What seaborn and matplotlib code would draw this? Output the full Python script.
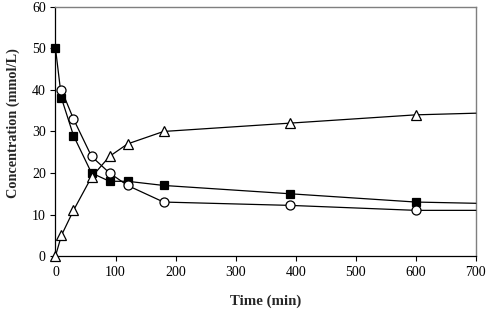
import numpy as np
import pandas as pd
import matplotlib
matplotlib.use("Agg")
import matplotlib.pyplot as plt
import seaborn as sns

# measured points (min, mmol/L); last entry of each is where the curve ends at 700 min
time_sq = [0, 10, 30, 60, 90, 120, 180, 390, 600, 700]
conc_sq = [50, 38, 29, 20, 18, 18, 17, 15, 13, 12.7]

time_ci = [10, 30, 60, 90, 120, 180, 390, 600, 700]
conc_ci = [40, 33, 24, 20, 17, 13, 12.2, 11, 11]

time_tr = [0, 10, 30, 60, 90, 120, 180, 390, 600, 700]
conc_tr = [0, 5, 11, 19, 24, 27, 30, 32, 34, 34.4]

sns.set_style("ticks")
plt.rcParams['font.family'] = ['Liberation Serif', 'DejaVu Serif']

fig = plt.figure(figsize=(4.88, 3.13), dpi=100)
ax = fig.add_axes([0.1137, 0.182, 0.8613, 0.796])

series = [
    (time_sq, conc_sq, "s", "black", 6),
    (time_ci, conc_ci, "o", "white", 6.5),
    (time_tr, conc_tr, "^", "white", 7),
]
for t, c, m, fc, ms in series:
    df = pd.DataFrame({"t": t, "c": c})
    sns.lineplot(data=df, x="t", y="c", ax=ax, color="black", lw=0.9,
                 marker=m, markersize=ms, markerfacecolor=fc,
                 markeredgecolor="black", markeredgewidth=0.9,
                 markevery=list(range(len(t) - 1)), clip_on=False, zorder=3)

ax.set_xlim(0, 700)
ax.set_ylim(0, 60)
ax.set_xticks(range(0, 701, 100))
ax.set_yticks(range(0, 61, 10))
ax.tick_params(direction="out", length=3.5, width=0.8, labelsize=10, colors="black")
ax.set_xlabel("Time (min)", fontsize=10.7, fontweight="bold", labelpad=11)
ax.set_ylabel("Concentration (mmol/L)", fontsize=10.3, fontweight="bold", labelpad=8)
ax.yaxis.set_label_coords(-0.085, 0.535)

for s in ["left", "bottom"]:
    ax.spines[s].set_color("black")
    ax.spines[s].set_linewidth(0.9)
for s in ["top", "right"]:
    ax.spines[s].set_visible(True)
    ax.spines[s].set_color("#7f7f7f")
    ax.spines[s].set_linewidth(1.0)

fig.savefig("out.png", dpi=100)
